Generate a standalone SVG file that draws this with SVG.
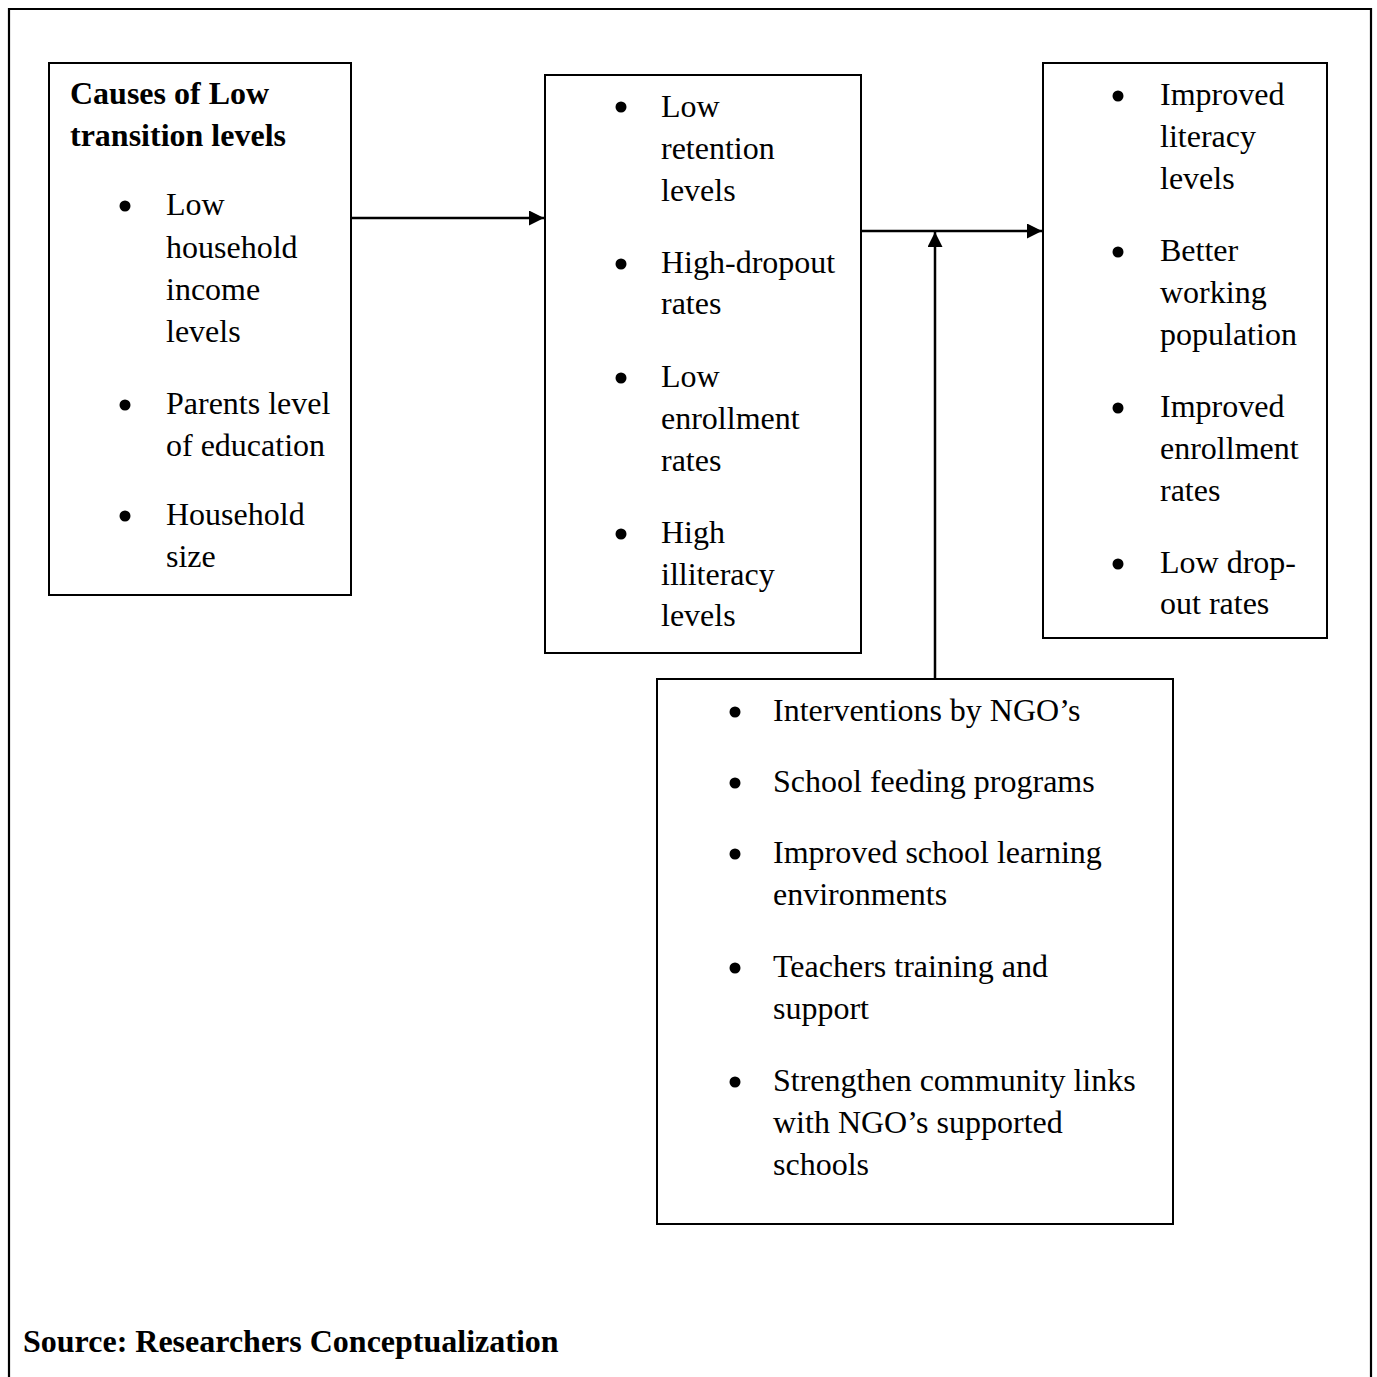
<svg xmlns="http://www.w3.org/2000/svg" width="1377" height="1377" viewBox="0 0 1377 1377">
<defs>
<style>
.t{font-family:"Liberation Serif","Times New Roman",serif;font-size:32px;fill:#000}
.b{font-family:"Liberation Serif","Times New Roman",serif;font-size:32px;font-weight:bold;fill:#000}
.box{fill:#fff;stroke:#000;stroke-width:2}
.ln{stroke:#000;stroke-width:2.5;fill:none}
</style>
<marker id="ah" viewBox="0 0 10 10" refX="10" refY="5" markerWidth="15" markerHeight="15" markerUnits="userSpaceOnUse" orient="auto"><path d="M0,0 L10,5 L0,10 Z" fill="#000"/></marker>
</defs>
<rect width="1377" height="1377" fill="#fff"/>
<path d="M9,1377 V9 H1371 V1377" fill="none" stroke="#000" stroke-width="2.2"/>
<g id="connectors">
<line class="ln" x1="351" y1="218" x2="544" y2="218" marker-end="url(#ah)"/>
<line class="ln" x1="861" y1="231" x2="1042" y2="231" marker-end="url(#ah)"/>
<line class="ln" x1="935" y1="679" x2="935" y2="232" marker-end="url(#ah)"/>
</g>
<g id="causes">
<rect class="box" x="49" y="63" width="302" height="532"/>
<text class="b" x="70" y="104">Causes of Low</text>
<text class="b" x="70" y="146">transition levels</text>
<circle cx="125" cy="206" r="5.5"/>
<text class="t" x="166" y="215">Low</text>
<text class="t" x="166" y="258">household</text>
<text class="t" x="166" y="300">income</text>
<text class="t" x="166" y="342">levels</text>
<circle cx="125" cy="405" r="5.5"/>
<text class="t" x="166" y="414">Parents level</text>
<text class="t" x="166" y="456">of education</text>
<circle cx="125" cy="516" r="5.5"/>
<text class="t" x="166" y="525">Household</text>
<text class="t" x="166" y="567">size</text>
</g>
<g id="effects">
<rect class="box" x="545" y="75" width="316" height="578"/>
<circle cx="621" cy="107" r="5.5"/>
<text class="t" x="661" y="117">Low</text>
<text class="t" x="661" y="159">retention</text>
<text class="t" x="661" y="201">levels</text>
<circle cx="621" cy="264" r="5.5"/>
<text class="t" x="661" y="273">High-dropout</text>
<text class="t" x="661" y="314">rates</text>
<circle cx="621" cy="378" r="5.5"/>
<text class="t" x="661" y="387">Low</text>
<text class="t" x="661" y="429">enrollment</text>
<text class="t" x="661" y="471">rates</text>
<circle cx="621" cy="534" r="5.5"/>
<text class="t" x="661" y="543">High</text>
<text class="t" x="661" y="585">illiteracy</text>
<text class="t" x="661" y="626">levels</text>
</g>
<g id="outcomes">
<rect class="box" x="1043" y="63" width="284" height="575"/>
<circle cx="1118" cy="96" r="5.5"/>
<text class="t" x="1160" y="105">Improved</text>
<text class="t" x="1160" y="147">literacy</text>
<text class="t" x="1160" y="189">levels</text>
<circle cx="1118" cy="252" r="5.5"/>
<text class="t" x="1160" y="261">Better</text>
<text class="t" x="1160" y="303">working</text>
<text class="t" x="1160" y="345">population</text>
<circle cx="1118" cy="408" r="5.5"/>
<text class="t" x="1160" y="417">Improved</text>
<text class="t" x="1160" y="459">enrollment</text>
<text class="t" x="1160" y="501">rates</text>
<circle cx="1118" cy="564" r="5.5"/>
<text class="t" x="1160" y="573">Low drop-</text>
<text class="t" x="1160" y="614">out rates</text>
</g>
<g id="interventions">
<rect class="box" x="657" y="679" width="516" height="545"/>
<circle cx="735" cy="712" r="5.5"/>
<text class="t" x="773" y="721">Interventions by NGO’s</text>
<circle cx="735" cy="783" r="5.5"/>
<text class="t" x="773" y="792">School feeding programs</text>
<circle cx="735" cy="854" r="5.5"/>
<text class="t" x="773" y="863">Improved school learning</text>
<text class="t" x="773" y="905">environments</text>
<circle cx="735" cy="968" r="5.5"/>
<text class="t" x="773" y="977">Teachers training and</text>
<text class="t" x="773" y="1019">support</text>
<circle cx="735" cy="1082" r="5.5"/>
<text class="t" x="773" y="1091">Strengthen community links</text>
<text class="t" x="773" y="1133">with NGO’s supported</text>
<text class="t" x="773" y="1175">schools</text>
</g>
<text class="b" x="23" y="1352">Source: Researchers Conceptualization</text>
</svg>
